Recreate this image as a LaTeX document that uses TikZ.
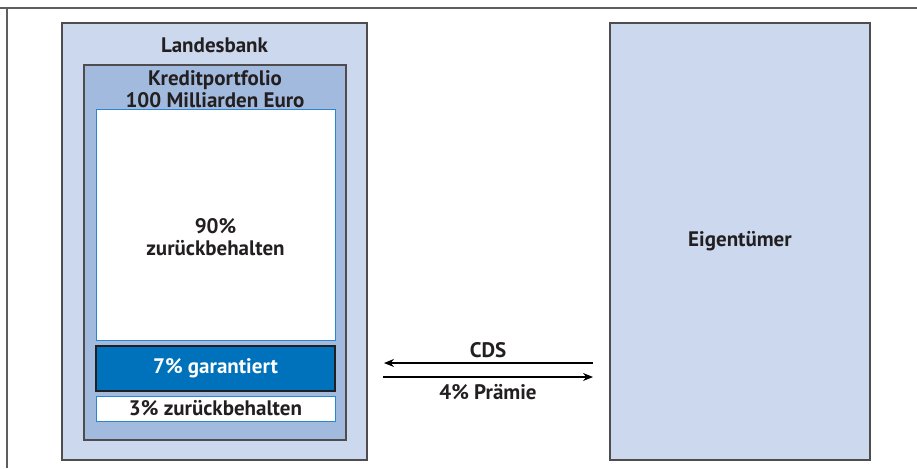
\documentclass[tikz,border=0pt]{standalone}
\usepackage{fontspec}
\setmainfont{PT Sans}
\usepackage{tikz}
\usetikzlibrary{arrows.meta}

\definecolor{paleblue}{HTML}{CBD8EE}
\definecolor{midblue}{HTML}{A3BADF}
\definecolor{deepblue}{HTML}{0071BB}
\definecolor{lineblue}{HTML}{2A86D0}
\definecolor{ink}{HTML}{231F20}
\definecolor{framegray}{HTML}{5E5E5E}

\begin{document}
\begin{tikzpicture}[
    x=1pt, y=-1pt,
    font=\fontsize{21}{22}\selectfont\bfseries,
    text=ink,
    outer box/.style={draw=ink!80, line width=1.2pt, fill=paleblue, inner sep=0pt},
    inner box/.style={draw=ink!80, line width=1.2pt, fill=midblue, inner sep=0pt},
    part box/.style={draw=lineblue, line width=1pt, fill=white, inner sep=0pt},
    hedge box/.style={draw=ink, line width=1.2pt, fill=deepblue, text=white, inner sep=0pt},
    flow/.style={line width=1.1pt, -{Stealth[length=10pt,width=8pt]}},
    ]
  \useasboundingbox (0,0) rectangle (917,468);

  \draw[framegray, line width=2pt] (0,8.5) -- (917,8.5);
  \draw[framegray, line width=2pt] (7,8.5) -- (7,468);

  \node[outer box, minimum width=305pt, minimum height=437pt] (bank) at (214.5,241.5) {};
  \node (banktitle) at (214.5,45) {Landesbank};

  \node[inner box, minimum width=262pt, minimum height=375pt] (portfolio) at (215,252.5) {};
  \node[align=center] (portfoliotitle) at (215,89) {Kreditportfolio\\100 Milliarden Euro};

  \node[part box, minimum width=239pt, minimum height=230pt] (keep90) at (215.5,225) {};
  \node[align=center] (keep90text) at (215.5,237) {90\%\\zurückbehalten};
  \node[hedge box, minimum width=239pt, minimum height=45pt] (guar) at (215.5,368.5) {7\% garantiert};
  \node[part box, minimum width=239pt, minimum height=25pt] (keep3) at (215.5,408.5) {3\% zurückbehalten};

  \node[outer box, minimum width=260pt, minimum height=437pt] (owner) at (740,241.5) {Eigentümer};

  \coordinate (cdsR) at (593,363);
  \coordinate (cdsL) at (384,363);
  \coordinate (feeL) at (383,377);
  \coordinate (feeR) at (593,377);

  \draw[flow] (cdsR) -- (cdsL);
  \draw[flow] (feeL) -- (feeR);

  \node (cds) at (488,350) {CDS};
  \node (fee) at (488,392) {4\% Prämie};
\end{tikzpicture}
\end{document}
